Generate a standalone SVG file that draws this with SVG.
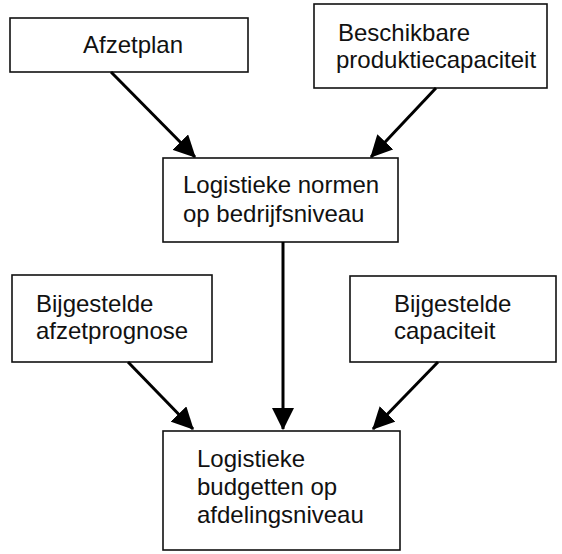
<svg xmlns="http://www.w3.org/2000/svg" width="562" height="554" viewBox="0 0 562 554">
<style>
.box{fill:#fff;stroke:#111;stroke-width:1.6}
.t{font-family:"Liberation Sans",Arial,sans-serif;font-size:24px;fill:#111}
.c{stroke:#000;stroke-width:3;fill:none}
</style>
<defs>
<marker id="ah" markerUnits="userSpaceOnUse" markerWidth="22" markerHeight="22" viewBox="0 0 20 20" refX="19" refY="10" orient="auto">
<path d="M0,0 L20,10 L0,20 Z" fill="#000"/>
</marker>
</defs>
<rect width="562" height="554" fill="#fff"/>
<g id="afzetplan"><rect class="box" x="10" y="18" width="238" height="54"/><text class="t" x="83" y="53">Afzetplan</text></g>
<g id="beschikbare"><rect class="box" x="314" y="4" width="233" height="84"/><text class="t" x="338" y="41">Beschikbare</text><text class="t" x="336" y="68">produktiecapaciteit</text></g>
<g id="normen"><rect class="box" x="163" y="158" width="235" height="84"/><text class="t" x="183" y="193">Logistieke normen</text><text class="t" x="183" y="222">op bedrijfsniveau</text></g>
<g id="afzetprognose"><rect class="box" x="12" y="275" width="200" height="87"/><text class="t" x="36" y="312">Bijgestelde</text><text class="t" x="36" y="339">afzetprognose</text></g>
<g id="capaciteit"><rect class="box" x="350" y="276" width="206" height="86"/><text class="t" x="394" y="312">Bijgestelde</text><text class="t" x="394" y="339">capaciteit</text></g>
<g id="budgetten"><rect class="box" x="163" y="431" width="237" height="119"/><text class="t" x="197" y="467">Logistieke</text><text class="t" x="197" y="495">budgetten op</text><text class="t" x="197" y="523">afdelingsniveau</text></g>
<g id="connectors">
<line class="c" x1="111" y1="72" x2="195" y2="157" marker-end="url(#ah)"/>
<line class="c" x1="436" y1="88" x2="371" y2="157" marker-end="url(#ah)"/>
<line class="c" x1="283" y1="242" x2="283" y2="429" marker-end="url(#ah)"/>
<line class="c" x1="128" y1="362" x2="193" y2="429" marker-end="url(#ah)"/>
<line class="c" x1="438" y1="362" x2="373" y2="429" marker-end="url(#ah)"/>
</g>
</svg>
